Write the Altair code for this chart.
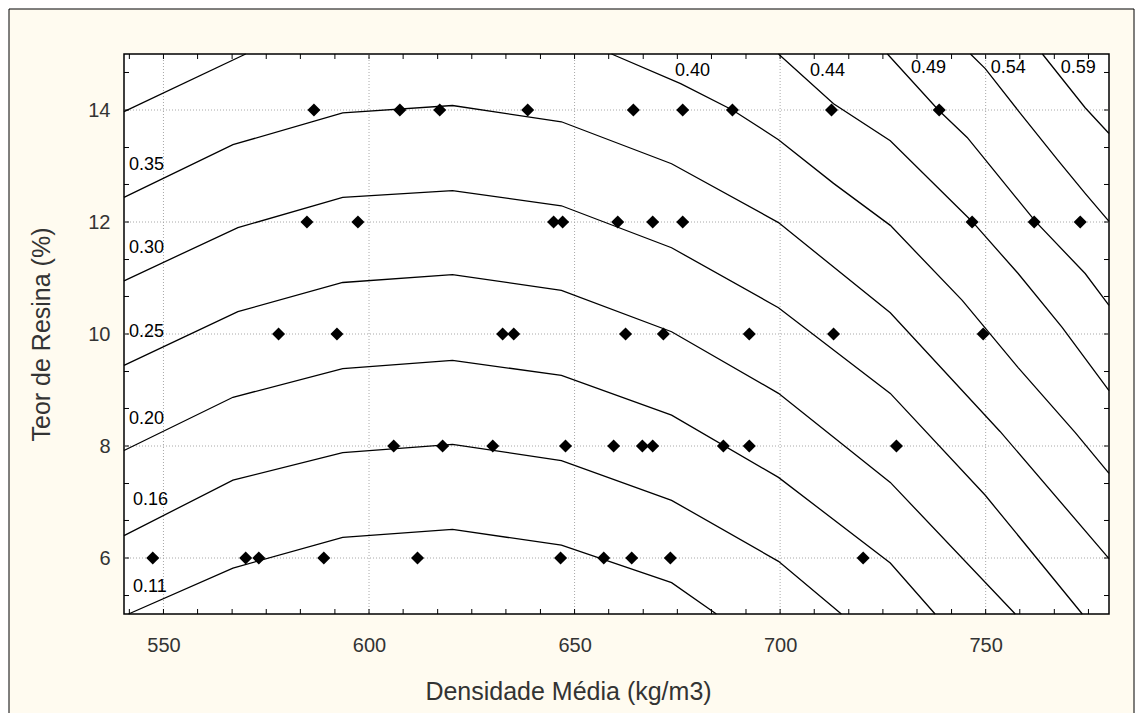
import altair as alt
import pandas as pd

# ---------------- observed points (Densidade Média by Teor de Resina row) -------------
resin_rows = [14, 12, 10, 8, 6]
dens_14 = [586.6, 607.5, 617.2, 638.6, 664.3, 676.3, 688.4, 712.5, 738.7]
dens_12 = [584.9, 597.3, 644.9, 647.1, 660.5, 669.0, 676.3, 746.7, 761.8, 773.0]
dens_10 = [578.0, 592.2, 632.5, 635.2, 662.4, 671.6, 692.5, 713.0, 749.4]
dens_8 = [606.0, 617.9, 630.1, 647.8, 659.5, 666.5, 669.0, 686.2, 692.5, 728.3]
dens_6 = [547.4, 570.0, 573.2, 589.0, 611.8, 646.6, 657.1, 663.9, 673.3, 720.2]

# ---------------- contour lines (x = densidade, y = resina) ----------------
c011_x = [541.5, 566.9, 593.6, 620.3, 646.8, 673.6, 684.5]
c011_y = [5.0, 5.82, 6.37, 6.51, 6.23, 5.56, 5.0]
c016_x = [540.4, 566.9, 593.6, 620.3, 646.8, 673.6, 699.6, 714.9]
c016_y = [6.40, 7.39, 7.88, 8.03, 7.74, 7.03, 5.94, 5.0]
c020_x = [540.4, 566.9, 593.6, 620.3, 646.8, 673.6, 699.6, 726.8, 737.7]
c020_y = [7.92, 8.87, 9.38, 9.53, 9.26, 8.55, 7.44, 5.91, 5.0]
c025_x = [540.4, 568.1, 593.6, 620.3, 646.8, 673.6, 699.6, 726.8, 757.2]
c025_y = [9.44, 10.40, 10.92, 11.06, 10.78, 10.04, 8.94, 7.35, 5.0]
c030_x = [540.4, 568.1, 593.6, 620.3, 646.8, 673.6, 699.6, 726.8, 749.9, 773.5]
c030_y = [10.95, 11.90, 12.44, 12.56, 12.29, 11.54, 10.47, 8.94, 7.12, 5.0]
c035_x = [540.4, 566.9, 593.6, 620.3, 646.8, 673.6, 699.6, 726.8, 753.5, 780.0]
c035_y = [12.44, 13.38, 13.95, 14.08, 13.79, 13.04, 11.99, 10.38, 8.26, 5.99]
c040a_x = [540.4, 570.0]
c040a_y = [13.97, 15.0]
c040b_x = [659.0, 675.8, 688.4, 699.6, 713.0, 726.8, 744.3, 757.9, 771.8, 780.0]
c040b_y = [15.0, 14.47, 14.0, 13.47, 12.69, 11.94, 10.60, 9.40, 8.24, 7.51]
c044_x = [699.6, 713.0, 726.8, 746.7, 757.9, 768.6, 780.0]
c044_y = [15.0, 14.11, 13.45, 12.01, 11.08, 10.12, 8.99]
c049_x = [726.1, 738.5, 745.5, 762.1, 774.2, 780.0]
c049_y = [15.0, 14.0, 13.51, 12.01, 11.08, 10.51]
c054_x = [746.3, 749.9, 757.9, 767.6, 774.2, 780.0]
c054_y = [15.0, 14.74, 13.99, 13.10, 12.51, 12.01]
c059_x = [763.8, 774.2, 780.0]
c059_y = [15.0, 14.04, 13.58]

# ---------------- contour labels ----------------
lab_text = ["0.35", "0.30", "0.25", "0.20", "0.16", "0.11", "0.40", "0.44", "0.49", "0.54", "0.59"]
lab_x = [541.6, 541.6, 541.6, 541.6, 542.6, 542.6, 678.7, 711.5, 736.1, 755.5, 772.5]
lab_y = [13.01, 11.53, 10.03, 8.49, 7.03, 5.48, 14.70, 14.70, 14.75, 14.75, 14.75]
lab_align = ["left"] * 6 + ["center"] * 5

# ---------------- axis ticks / grid ----------------
x_major = [550, 600, 650, 700, 750]
y_major = [6, 8, 10, 12, 14]
x_minor = [541.7, 550, 558.3, 566.7, 575, 583.3, 591.7, 600, 608.3, 616.7, 625, 633.3,
           641.7, 650, 658.3, 666.7, 675, 683.3, 691.7, 700, 708.3, 716.7, 725, 733.3,
           741.7, 750, 758.3, 766.7, 775]
y_minor = [5.33, 6, 6.67, 7.33, 8, 8.67, 9.33, 10, 10.67, 11.33, 12, 12.67, 13.33, 14, 14.67]

W, H = 985, 560
FONT = "Liberation Sans"

# ---------------- tables ----------------
pts_rows = []
for r, vals in zip(resin_rows, [dens_14, dens_12, dens_10, dens_8, dens_6]):
    for v in vals:
        pts_rows.append({"dens": v, "resina": r})
pts = pd.DataFrame(pts_rows)

lines = []
for name, xs_, ys_ in [("0.11", c011_x, c011_y), ("0.16", c016_x, c016_y),
                       ("0.20", c020_x, c020_y), ("0.25", c025_x, c025_y),
                       ("0.30", c030_x, c030_y), ("0.35", c035_x, c035_y),
                       ("0.40a", c040a_x, c040a_y), ("0.40b", c040b_x, c040b_y),
                       ("0.44", c044_x, c044_y), ("0.49", c049_x, c049_y),
                       ("0.54", c054_x, c054_y), ("0.59", c059_x, c059_y)]:
    for i, (a, b) in enumerate(zip(xs_, ys_)):
        lines.append({"seg": name, "i": i, "dens": a, "resina": b})
lines = pd.DataFrame(lines)

labs = pd.DataFrame({"t": lab_text, "dens": lab_x, "resina": lab_y, "al": lab_align})

xs = alt.Scale(domain=[540.4, 780.0], nice=False, zero=False)
ys = alt.Scale(domain=[5, 15], nice=False, zero=False)

x_axis = alt.Axis(values=x_major, title="Densidade Média (kg/m3)", grid=False,
                  ticks=False, domain=False, labelPadding=21, zindex=2,
                  labelFontSize=20, labelFont=FONT, labelColor="#333333",
                  titleFont=FONT, titleFontSize=25, titleFontWeight="normal",
                  titleColor="#333333", titleX=444, titleY=77, titleAlign="center",
                  titleBaseline="middle", titleAnchor="start")
y_axis = alt.Axis(values=y_major, title="Teor de Resina (%)", grid=False,
                  ticks=False, domain=False, labelPadding=14, zindex=2,
                  labelFontSize=20, labelFont=FONT, labelColor="#333333",
                  titleFont=FONT, titleFontSize=25, titleFontWeight="normal",
                  titleColor="#333333", titleX=-83, titleY=280, titleAlign="center",
                  titleBaseline="middle", titleAnchor="start", titleAngle=270)


def X():
    return alt.X("dens:Q", scale=xs, axis=x_axis)


def Y():
    return alt.Y("resina:Q", scale=ys, axis=y_axis)


one = pd.DataFrame({"k": [0]})

frame = alt.Chart(one).mark_rect(fill="#fffbf0", stroke="#000000", strokeWidth=1).encode(
    x=alt.value(-115), x2=alt.value(1010), y=alt.value(-45), y2=alt.value(690))

plotbg = alt.Chart(one).mark_rect(fill="white", stroke="#000000", strokeWidth=1.5).encode(
    x=alt.value(0), x2=alt.value(W), y=alt.value(0), y2=alt.value(H))

gridx = alt.Chart(pd.DataFrame({"dens": x_major})).mark_rule(
    color="#a8a8a8", strokeDash=[1, 2], strokeWidth=1).encode(
    x=X(), y=alt.value(0), y2=alt.value(H))
gridy = alt.Chart(pd.DataFrame({"resina": y_major})).mark_rule(
    color="#a8a8a8", strokeDash=[1, 2], strokeWidth=1).encode(
    y=Y(), x=alt.value(0), x2=alt.value(W))

tk = 5
tick_layers = []
xm = pd.DataFrame({"dens": x_minor})
ym = pd.DataFrame({"resina": y_minor})
for y0, y1 in [(H, H - tk), (0, tk)]:
    tick_layers.append(alt.Chart(xm).mark_rule(color="#000", strokeWidth=1).encode(
        x=X(), y=alt.value(y0), y2=alt.value(y1)))
for x0, x1 in [(0, tk), (W, W - tk)]:
    tick_layers.append(alt.Chart(ym).mark_rule(color="#000", strokeWidth=1).encode(
        y=Y(), x=alt.value(x0), x2=alt.value(x1)))

contours = alt.Chart(lines).mark_line(color="#000000", strokeWidth=1.3).encode(
    x=X(), y=Y(), detail="seg:N", order="i:Q")

lab_layers = []
for al in ["left", "center"]:
    lab_layers.append(alt.Chart(labs[labs.al == al]).mark_text(
        align=al, baseline="middle", font=FONT, fontSize=18, color="#000").encode(
        x=X(), y=Y(), text="t:N"))

points = alt.Chart(pts).mark_point(shape="diamond", filled=True, size=170,
                                   color="#000000", opacity=1).encode(x=X(), y=Y())

chart = alt.layer(frame, plotbg, gridx, gridy, *tick_layers, contours, *lab_layers, points).properties(
    width=W, height=H,
    padding={"left": 8, "top": 8, "right": 0, "bottom": 0},
    background="white",
).configure_view(stroke=None)

chart.save("out.html", embed_options={"renderer": "svg", "actions": False})
